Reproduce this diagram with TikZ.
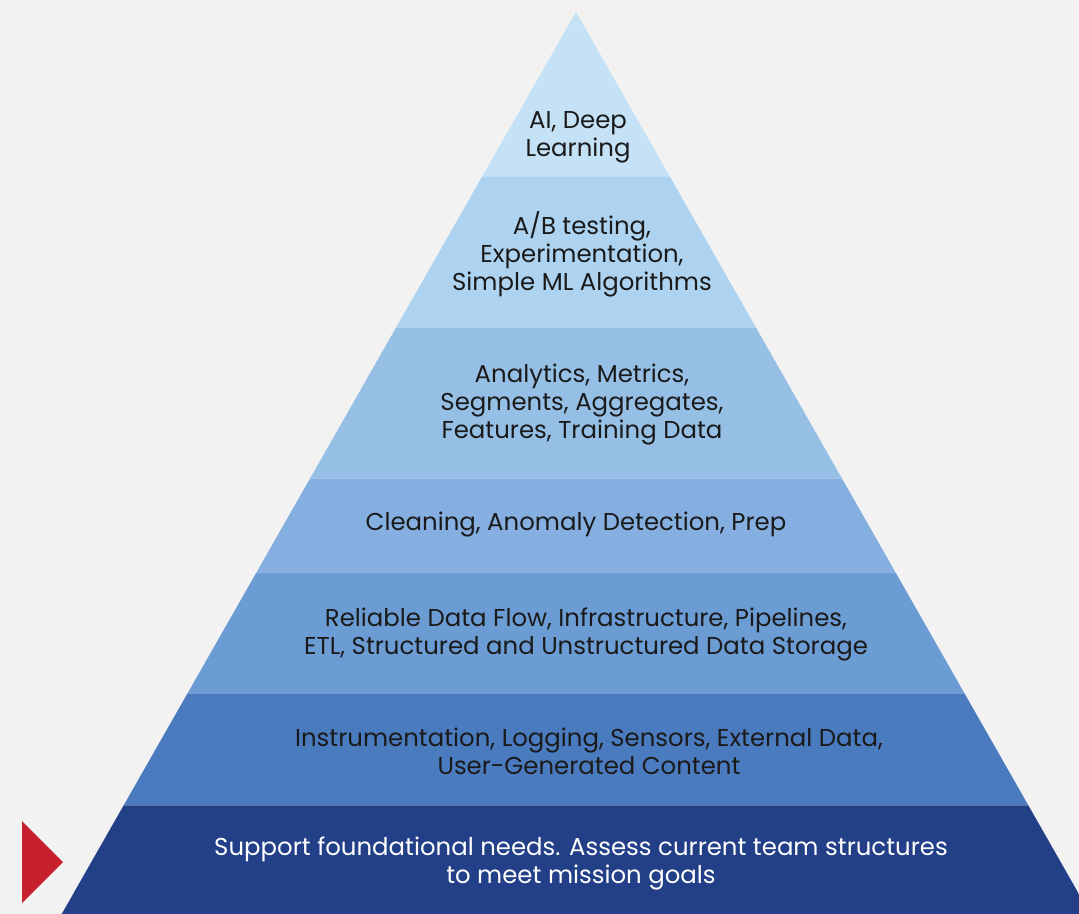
\documentclass[tikz,border=0pt]{standalone}
\usepackage{fontspec}
\setmainfont{Poppins}
\definecolor{bgc}{HTML}{F2F2F2}
\definecolor{bA}{HTML}{C4E1F6}
\definecolor{bB}{HTML}{ADD3F0}
\definecolor{bC}{HTML}{96BFE6}
\definecolor{bD}{HTML}{84AFE0}
\definecolor{bE}{HTML}{6C9CD4}
\definecolor{bF}{HTML}{4B7BBF}
\definecolor{bG}{HTML}{223F87}
\definecolor{redc}{HTML}{C8202D}
\definecolor{txt}{HTML}{1A1A1A}
\tikzset{
  lbl/.style={align=center, text=txt, font=\fontsize{18.3}{21}\selectfont, inner sep=0pt},
  lblw/.style={lbl, text=white},
}
\begin{document}
\begin{tikzpicture}[x=0.75pt,y=-0.75pt]
\useasboundingbox (0,0) rectangle (1079,914);
\fill[bgc] (0,0) rectangle (1079,914);
\begin{scope}
\clip (576,12) -- (61.7,914) -- (1090.3,914) -- cycle;
\fill[bA] (0,0) rectangle (1100,176);
\fill[bB] (0,176) rectangle (1100,327);
\fill[bC] (0,327) rectangle (1100,478);
\fill[bD] (0,478) rectangle (1100,572);
\fill[bE] (0,572) rectangle (1100,693);
\fill[bF] (0,693) rectangle (1100,805);
\fill[bG] (0,805) rectangle (1100,914);
\foreach \yy in {176,327,478,572,693,805}
  \draw[white, opacity=0.25, line width=0.75pt] (0,\yy) -- (1100,\yy);
\end{scope}
\fill[redc] (22,821) -- (22,903) -- (63,862) -- cycle;
\node[lbl] (t1) at (578,137) {AI, Deep\\Learning};
\node[lbl] (t2) at (582,254) {A/B testing,\\Experimentation,\\Simple ML Algorithms};
\node[lbl] (t3) at (582,405) {Analytics, Metrics,\\Segments, Aggregates,\\Features, Training Data};
\node[lbl] (t4) at (576,525) {Cleaning, Anomaly Detection, Prep};
\node[lbl] (t5) at (586,634) {Reliable Data Flow, Infrastructure, Pipelines,\\ETL, Structured and Unstructured Data Storage};
\node[lbl] (t6) at (589,751) {Instrumentation, Logging, Sensors, External Data,\\User-Generated Content};
\node[lblw] (t7) at (581,863) {Support foundational needs. Assess current team structures\\to meet mission goals};
\end{tikzpicture}
\end{document}
